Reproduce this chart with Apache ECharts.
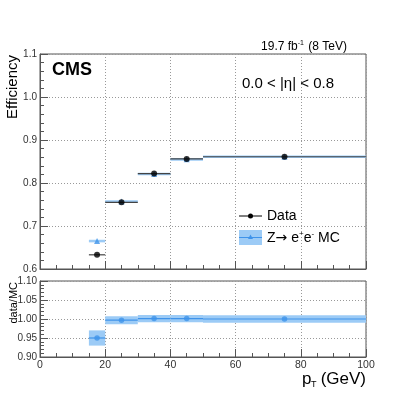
<!DOCTYPE html>
<html><head><meta charset="utf-8">
<script src="https://cdn.jsdelivr.net/npm/echarts@6/dist/echarts.min.js"></script>
<style>html,body{margin:0;padding:0;background:#fff}#c{width:407px;height:393px}</style>
</head><body><div id="c"></div>
<script>
var binLo = [15, 20, 30, 40, 50];
var binHi = [20, 30, 40, 50, 100];
var dataEff = [0.633, 0.755, 0.822, 0.856, 0.861];
var mcEff = [0.665, 0.757, 0.821, 0.855, 0.861];
var mcErr = [0.003, 0.003, 0.003, 0.003, 0.003];
var ratio = [0.950, 0.997, 1.001, 1.001, 1.000];
var ratioErr = [0.020, 0.0105, 0.0095, 0.0095, 0.010];

var FONT = 'Liberation Sans, Arial, Helvetica, sans-serif';
var BAND = '#9ccbf6';
var BLUE = '#3f93ea';
var AX = '#555';

function center(i){ return (binLo[i] + binHi[i]) / 2; }

var mcBandData = binLo.map(function(l,i){ return [l, binHi[i], mcEff[i]-mcErr[i], mcEff[i]+mcErr[i]]; });
var dataLineData = binLo.map(function(l,i){ return [l, binHi[i], dataEff[i]]; });
var dataPts = binLo.map(function(l,i){ return [center(i), dataEff[i]]; });
var mcPts = binLo.map(function(l,i){ return [center(i), mcEff[i]]; });
var ratioBandData = binLo.map(function(l,i){ return [l, binHi[i], ratio[i]-ratioErr[i], ratio[i]+ratioErr[i]]; });
var ratioLineData = binLo.map(function(l,i){ return [l, binHi[i], ratio[i]]; });
var ratioPts = binLo.map(function(l,i){ return [center(i), ratio[i]]; });

function rectItem(fill){
  return function(params, api){
    var a = api.coord([api.value(0), api.value(3)]);
    var b = api.coord([api.value(1), api.value(2)]);
    return {type:'rect', shape:{x:a[0], y:a[1], width:b[0]-a[0], height:b[1]-a[1]}, style:{fill:fill}};
  };
}
function lineItem(color){
  return function(params, api){
    var a = api.coord([api.value(0), api.value(2)]);
    var b = api.coord([api.value(1), api.value(2)]);
    return {type:'line', shape:{x1:a[0], y1:a[1], x2:b[0], y2:b[1]}, style:{stroke:color, lineWidth:1.2}};
  };
}

function xAxis(gi, showLabels){
  return {
    type:'value', gridIndex:gi, min:0, max:100, interval:20,
    axisLine:{show:true, lineStyle:{color:AX}},
    axisTick:{show:true, inside:true, length:8, lineStyle:{color:AX}},
    minorTick:{show:true, splitNumber:4, length:4, lineStyle:{color:AX}},
    splitLine:{show:true, lineStyle:{color:'#999', type:[1,2]}},
    axisLabel:{show:showLabels, color:'#333', fontFamily:FONT, fontSize:10.5, margin:3, showMinLabel:true, showMaxLabel:true}
  };
}
function yAxis(gi, min, max, interval, minorSplit, digits){
  return {
    type:'value', gridIndex:gi, min:min, max:max, interval:interval,
    axisLine:{show:true, lineStyle:{color:AX}},
    axisTick:{show:true, inside:true, length:8, lineStyle:{color:AX}},
    minorTick:{show:true, splitNumber:minorSplit, length:4, lineStyle:{color:AX}},
    splitLine:{show:true, lineStyle:{color:'#999', type:[1,2]}},
    axisLabel:{color:'#333', fontFamily:FONT, fontSize:10, margin:3, showMinLabel:true, showMaxLabel:true,
      formatter:function(v){ return v.toFixed(digits); }}
  };
}

var chart = echarts.init(document.getElementById('c'), null, {renderer:'canvas'});
chart.setOption({
  animation:false,
  backgroundColor:'#fff',
  grid:[
    {left:40, right:41, top:54, height:215, show:true, borderColor:AX, borderWidth:1},
    {left:40, right:41, top:281, height:76, show:true, borderColor:AX, borderWidth:1}
  ],
  xAxis:[xAxis(0,false), xAxis(1,true)],
  yAxis:[yAxis(0,0.6,1.1,0.1,5,1), yAxis(1,0.9,1.1,0.05,5,2)],
  series:[
    {type:'custom', xAxisIndex:0, yAxisIndex:0, renderItem:rectItem(BAND), data:mcBandData, z:2},
    {type:'scatter', xAxisIndex:0, yAxisIndex:0, data:mcPts, symbol:'triangle', symbolSize:6, itemStyle:{color:BLUE}, z:3},
    {type:'custom', xAxisIndex:0, yAxisIndex:0, renderItem:lineItem('#444'), data:dataLineData, z:4},
    {type:'scatter', xAxisIndex:0, yAxisIndex:0, data:dataPts, symbol:'circle', symbolSize:6, itemStyle:{color:'#000'}, z:5},
    {type:'custom', xAxisIndex:1, yAxisIndex:1, renderItem:rectItem(BAND), data:ratioBandData, z:2},
    {type:'custom', xAxisIndex:1, yAxisIndex:1, renderItem:lineItem(BLUE), data:ratioLineData, z:3},
    {type:'scatter', xAxisIndex:1, yAxisIndex:1, data:ratioPts, symbol:'circle', symbolSize:5.5, itemStyle:{color:BLUE}, z:4}
  ],
  graphic:[
    {type:'text', left:52, top:61, style:{text:'CMS', font:'bold 18px '+FONT, fill:'#000'}},
    {type:'text', x:347, y:47, style:{text:'19.7 fb{sup|-1} (8 TeV)', font:'12px '+FONT, fill:'#000', align:'right', verticalAlign:'middle',
      rich:{sup:{fontSize:7, fontFamily:FONT, padding:[0,1,7,0]}}}},
    {type:'text', x:242, y:84, style:{text:'0.0 < |\u03b7| < 0.8', font:'15px '+FONT, fill:'#000', align:'left', verticalAlign:'middle'}},
    {type:'text', x:13, y:55, rotation:Math.PI/2, style:{text:'Efficiency', font:'15px '+FONT, fill:'#000', align:'right', verticalAlign:'middle'}},
    {type:'text', x:14, y:282, rotation:Math.PI/2, style:{text:'data/MC', font:'11px '+FONT, fill:'#000', align:'right', verticalAlign:'middle'}},
    {type:'text', x:302, y:379, style:{text:'p', font:'17px '+FONT, fill:'#000', align:'left', verticalAlign:'middle'}},
    {type:'text', x:311, y:385, style:{text:'T', font:'9px '+FONT, fill:'#000', align:'left', verticalAlign:'middle'}},
    {type:'text', x:366, y:379, style:{text:'(GeV)', font:'17px '+FONT, fill:'#000', align:'right', verticalAlign:'middle'}},
    {type:'line', shape:{x1:239, y1:216, x2:262, y2:216}, style:{stroke:'#000', lineWidth:1}},
    {type:'circle', shape:{cx:250.5, cy:216, r:2.5}, style:{fill:'#000'}},
    {type:'text', x:267, y:216, style:{text:'Data', font:'14px '+FONT, fill:'#000', align:'left', verticalAlign:'middle'}},
    {type:'rect', shape:{x:239, y:230, width:23, height:15}, style:{fill:BAND}},
    {type:'line', shape:{x1:239, y1:237.5, x2:262, y2:237.5}, style:{stroke:BLUE, lineWidth:1}},
    {type:'polygon', shape:{points:[[250.5,234.5],[253,239],[248,239]]}, style:{fill:BLUE}},
    {type:'text', x:267, y:238, style:{text:'Z{arr|\u2192} e{sup|+}e{sup|-} MC', font:'14px '+FONT, fill:'#000', align:'left', verticalAlign:'middle',
      rich:{sup:{fontSize:8, fontFamily:FONT, padding:[0,0,8,0]}, arr:{fontSize:14, fontFamily:'DejaVu Sans'}}}}
  ]
});
</script></body></html>
